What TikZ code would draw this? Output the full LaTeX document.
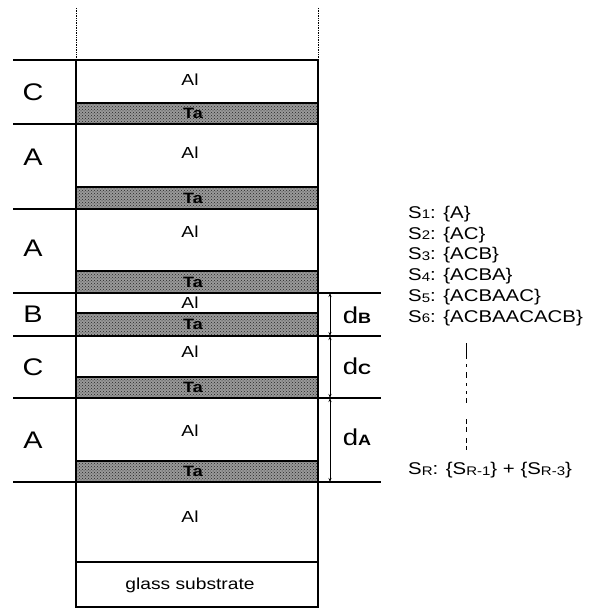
\documentclass[tikz,border=0pt]{standalone}
\usepackage{fontspec}
\setmainfont{Liberation Sans}[FakeStretch=1.2]
\usetikzlibrary{arrows.meta,patterns}
\newcommand{\lowidx}[1]{\raisebox{-0.6pt}{\fontsize{12.5}{12.5}\selectfont #1}}
\newcommand{\dimidx}[1]{\raisebox{-0.4pt}{\fontsize{15}{15}\selectfont\bfseries #1}}
\tikzset{
  stackline/.style={line width=1.5pt},
  sepline/.style={line width=1.1pt},
  guide/.style={line width=0.7pt, densely dotted},
  tastrip/.style={draw, line width=1.6pt, preaction={fill=black!40},
                  pattern=crosshatch dots, pattern color=black!85},
  talabel/.style={font=\fontsize{15}{15}\selectfont\bfseries, inner sep=0pt},
  allabel/.style={font=\fontsize{16}{16}\selectfont, inner sep=0pt},
  period/.style={font=\fontsize{24}{24}\selectfont, inner sep=0pt},
  dimlabel/.style={font=\fontsize{23}{23}\selectfont, inner sep=0pt},
  dimarrow/.style={line width=0.8pt, {Stealth[length=4pt,width=3pt]}-{Stealth[length=4pt,width=3pt]}},
  seqtext/.style={font=\fontsize{17}{17}\selectfont, inner sep=0pt, anchor=west},
  seqgap/.style={line width=0.8pt, dash pattern=on 16pt off 5pt on 3pt off 5pt on 6pt off 5pt on 3pt off 5pt on 3pt off 4pt on 5pt},
}
\begin{document}
\begin{tikzpicture}[x=1pt,y=-1pt]
  \useasboundingbox (0,0) rectangle (608,609);
  % dotted guides above the stack
  \draw[guide] (76,8) -- (76,60);
  \draw[guide] (318,8) -- (318,60);
  % Ta strips
  \foreach \nm/\ytop/\ybot in {ta1/103/124, ta2/187/209, ta3/271/293,
                               ta4/313/336, ta5/377/398, ta6/461/482}{
    \draw[tastrip] (76,\ytop) rectangle (318,\ybot);
    \node[talabel] (\nm) at (193,{(\ytop+\ybot)/2}) {Ta};
  }
  % stack outline and substrate
  \draw[stackline] (76,60) rectangle (318,607);
  \draw[stackline] (76,562) -- (318,562);
  \foreach \nm/\y in {al1/80, al2/153, al3/232, al4/303, al5/352, al6/431, al7/517}
    \node[allabel] (\nm) at (190,\y) {Al};
  \node[allabel] (glass) at (190,585) {glass substrate};
  % period boundaries
  \foreach \y in {60,124,209,293,336,398,482}
    \draw[sepline] (13,\y) -- (76,\y);
  \foreach \y in {293,336,398,482}
    \draw[sepline] (318,\y) -- (381,\y);
  \foreach \nm/\lab/\y in {pc1/C/92, pa1/A/157, pa2/A/248, pb/B/314, pc2/C/367, pa3/A/440}
    \node[period] (\nm) at (33,\y) {\lab};
  % thicknesses
  \coordinate (m1) at (330,293);
  \coordinate (m2) at (330,336);
  \coordinate (m3) at (330,398);
  \coordinate (m4) at (330,482);
  \draw[dimarrow] (m1) -- (m2);
  \draw[dimarrow] (m2) -- (m3);
  \draw[dimarrow] (m3) -- (m4);
  \node[dimlabel] (db) at (357,315) {d\dimidx{B}};
  \node[dimlabel] (dc) at (357,366) {d\dimidx{C}};
  \node[dimlabel] (da) at (357,437) {d\dimidx{A}};
  % Fibonacci-like sequences
  \foreach \i/\seq in {1/A, 2/AC, 3/ACB, 4/ACBA, 5/ACBAAC, 6/ACBAACACB}
    \node[seqtext] (s\i) at (408,{214+(\i-1)*20.8}) {S\lowidx{\i}: \{\seq\}};
  \coordinate (gtop) at (466,343);
  \coordinate (gbot) at (466,450);
  \draw[seqgap] (gtop) -- (gbot);
  \node[seqtext] (sr) at (408,470) {S\lowidx{R}: \{S\lowidx{R-1}\} + \{S\lowidx{R-3}\}};
\end{tikzpicture}
\end{document}
